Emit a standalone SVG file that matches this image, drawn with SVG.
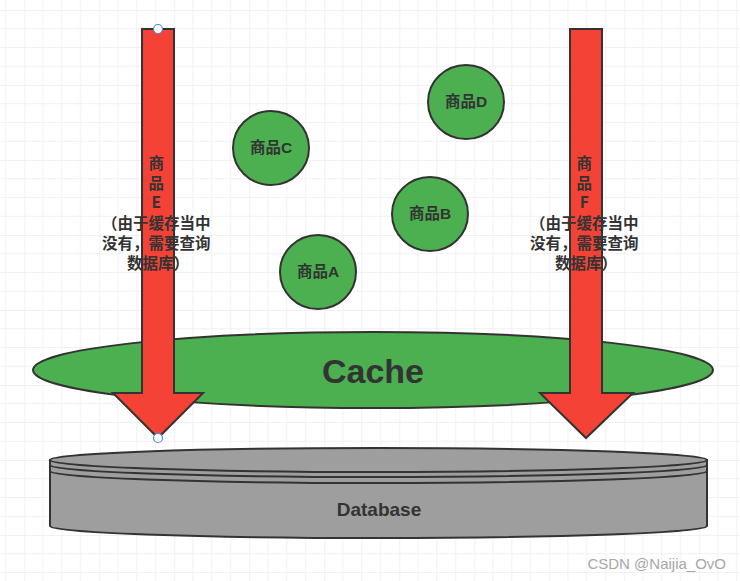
<svg xmlns="http://www.w3.org/2000/svg" width="740" height="581" viewBox="0 0 740 581">
  <defs>
    <pattern id="grid" patternUnits="userSpaceOnUse" x="24.3" y="10" width="75" height="75">
      <path d="M18.75,0V75M37.5,0V75M56.25,0V75M0,18.75H75M0,37.5H75M0,56.25H75" stroke="#f1f1f1" stroke-width="1" fill="none"/>
      <path d="M0,0V75M0,0H75" stroke="#e4e4e4" stroke-width="1" fill="none"/>
    </pattern>
    <style>
      .sh { stroke: #333333; stroke-width: 2; }
      .green { fill: #4caf50; }
      .red { fill: #f44336; }
      .gray { fill: #9e9e9e; }
      .lbl { font-family: "Liberation Sans", "Noto Sans CJK SC", sans-serif; font-weight: bold; fill: #333333; text-anchor: middle; }
      .cjk { font-family: "Noto Sans CJK SC", "Liberation Sans", sans-serif; font-weight: bold; fill: #333333; text-anchor: middle; font-size: 15.5px; }
      .handle { fill: #ffffff; stroke: #3c8ee8; stroke-width: 1.2; }
    </style>
  </defs>
  <rect x="0" y="0" width="740" height="581" fill="#ffffff"/>
  <rect x="0" y="0" width="740" height="581" fill="url(#grid)"/>

  <g id="database">
    <path class="sh gray" d="M50,460 L50,526 A328.5,12 0 0 0 707,526 L707,460 Z"/>
    <ellipse class="sh gray" cx="378.5" cy="460" rx="328.5" ry="12"/>
    <path class="sh" fill="none" d="M50,465 A328.5,12 0 0 0 707,465 M50,471 A328.5,12 0 0 0 707,471"/>
    <text class="lbl" x="379" y="516" font-size="19">Database</text>
  </g>

  <g id="cache">
    <ellipse class="sh green" cx="373" cy="370" rx="340" ry="38"/>
    <text class="lbl" x="373" y="383" font-size="34">Cache</text>
  </g>

  <g id="itemC">
    <ellipse class="sh green" cx="271" cy="148" rx="38" ry="37"/>
    <text class="lbl" x="271" y="153" font-size="15.5">商品C</text>
  </g>
  <g id="itemD">
    <ellipse class="sh green" cx="466" cy="102" rx="38" ry="37"/>
    <text class="lbl" x="466" y="107" font-size="15.5">商品D</text>
  </g>
  <g id="itemB">
    <ellipse class="sh green" cx="430" cy="214" rx="38" ry="37"/>
    <text class="lbl" x="430" y="219" font-size="15.5">商品B</text>
  </g>
  <g id="itemA">
    <ellipse class="sh green" cx="318" cy="272" rx="38" ry="37"/>
    <text class="lbl" x="318" y="277" font-size="15.5">商品A</text>
  </g>

  <g id="arrowE">
    <polygon class="sh red" points="142,29 174,29 174,393 203,393 158,438 113,393 142,393"/>
    <text class="cjk" x="158">
      <tspan x="158" y="169">商</tspan>
      <tspan x="158" y="189">品</tspan>
      <tspan x="158" y="208">E</tspan>
      <tspan x="158" y="229">（由于缓存当中</tspan>
      <tspan x="158" y="249">没有，需要查询</tspan>
      <tspan x="158" y="269">数据库）</tspan>
    </text>
    <circle class="handle" cx="158" cy="29" r="4.5"/>
    <circle class="handle" cx="158" cy="438" r="4.5"/>
  </g>

  <g id="arrowF">
    <polygon class="sh red" points="570,29 602,29 602,393 633,393 586,438 540,393 570,393"/>
    <text class="cjk" x="586">
      <tspan x="586" y="169">商</tspan>
      <tspan x="586" y="189">品</tspan>
      <tspan x="586" y="208">F</tspan>
      <tspan x="586" y="229">（由于缓存当中</tspan>
      <tspan x="586" y="249">没有，需要查询</tspan>
      <tspan x="586" y="269">数据库）</tspan>
    </text>
  </g>

  <g id="connectors"></g>

  <text x="726" y="569" font-family="Liberation Sans, sans-serif" font-size="15" fill="#a6a6a6" text-anchor="end">CSDN @Naijia_OvO</text>
</svg>
